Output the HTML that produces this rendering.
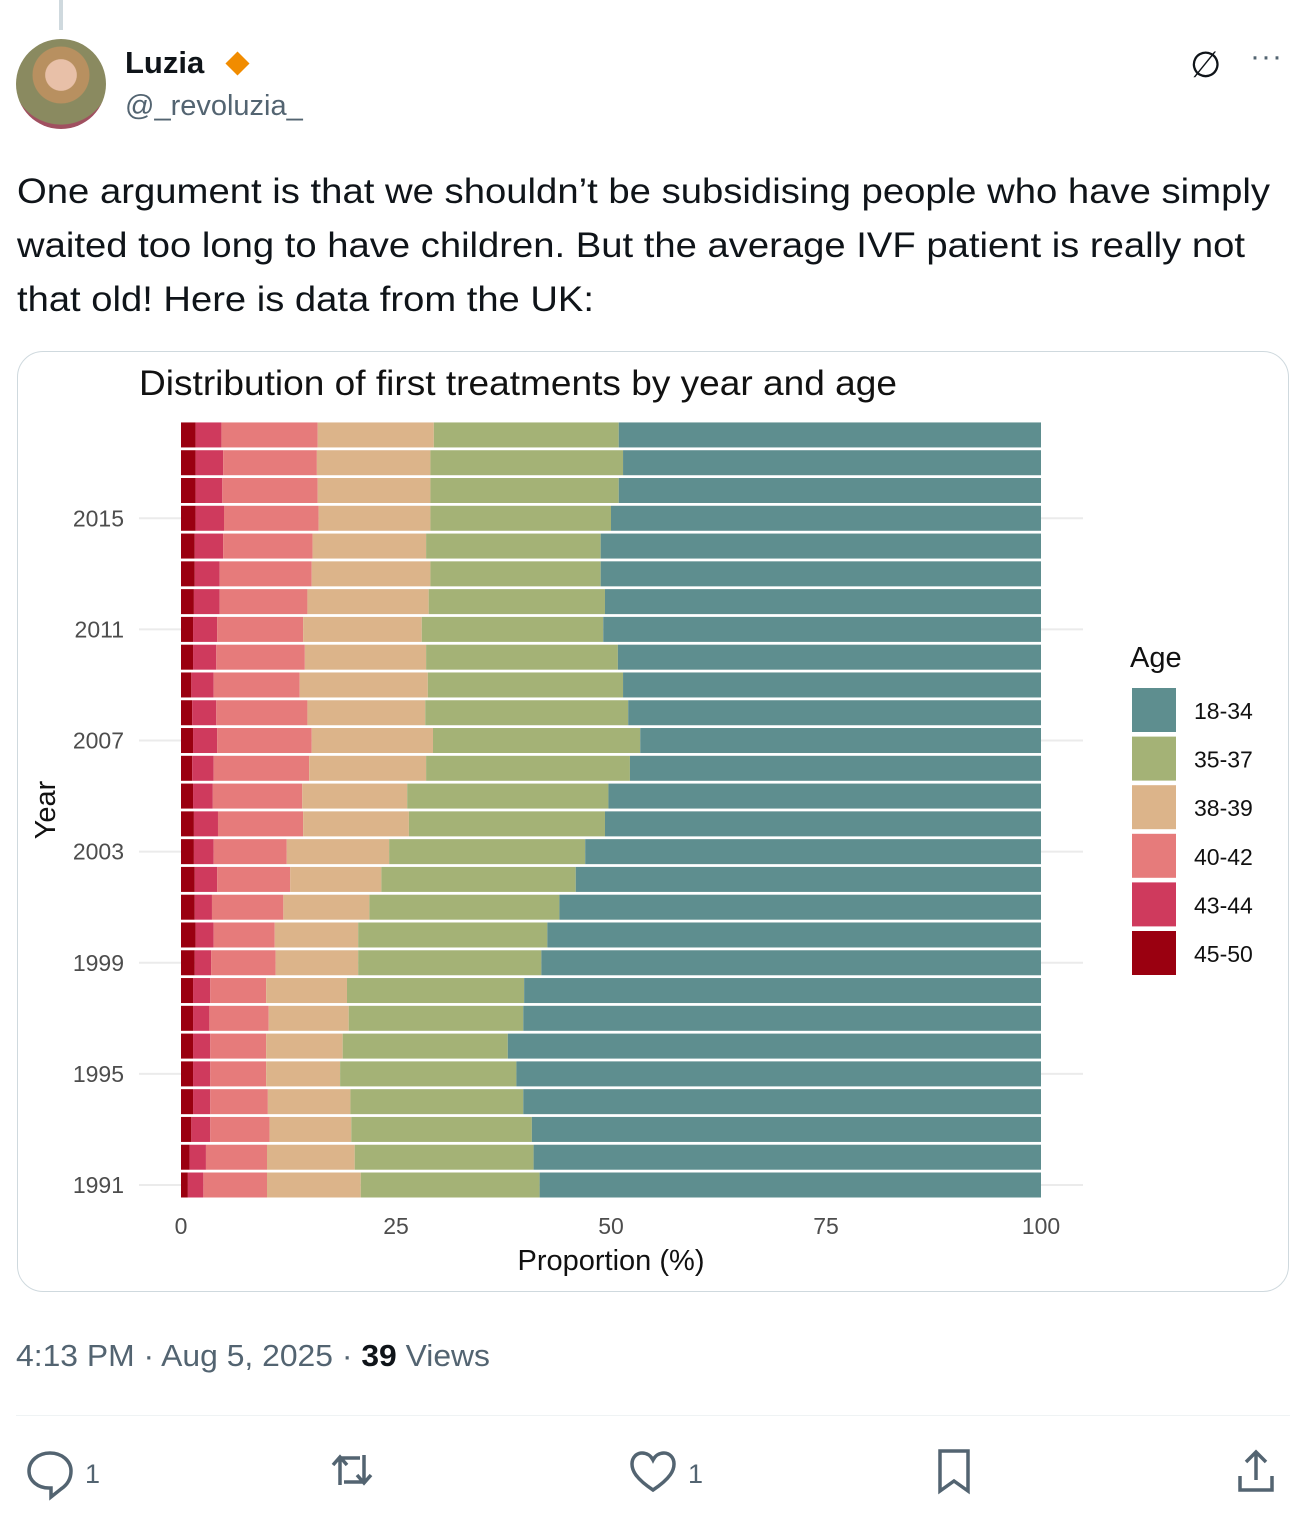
<!DOCTYPE html>
<html><head><meta charset="utf-8">
<style>
body{margin:0;width:1313px;height:1524px;background:#fff;font-family:"Liberation Sans",sans-serif;position:relative;overflow:hidden}
.abs{position:absolute}
</style></head><body>
<div class="abs" style="left:59px;top:0;width:4px;height:30px;background:#cfd9de"></div>
<div class="abs" style="left:16px;top:39px;width:90px;height:90px;border-radius:50%;background:radial-gradient(circle at 50% 40%,#e8c0a8 0 22%,#b89060 23% 40%,#8a8a60 41% 70%,#a05060 71%)"></div>
<div class="abs" style="left:125px;top:45px;font-size:31px;font-weight:bold;color:#0f1419">Luzia</div>
<div class="abs" style="left:229px;top:55px;width:17px;height:17px;background:#f18c00;transform:rotate(45deg)"></div>
<div class="abs" style="left:125px;top:90px;font-size:29px;color:#536471">@_revoluzia_</div>
<div class="abs" style="left:1190px;top:44px;font-size:36px;color:#0f1419">∅</div>
<div class="abs" style="left:1250px;top:40px;font-size:30px;color:#536471;letter-spacing:1px">···</div>
<svg class="abs" style="left:0;top:160px" width="1313" height="170">
<text x="17" y="43" font-size="35" fill="#0f1419" textLength="1253" lengthAdjust="spacingAndGlyphs">One argument is that we shouldn’t be subsidising people who have simply</text>
<text x="17" y="97" font-size="35" fill="#0f1419" textLength="1228" lengthAdjust="spacingAndGlyphs">waited too long to have children. But the average IVF patient is really not</text>
<text x="17" y="151" font-size="35" fill="#0f1419" textLength="577" lengthAdjust="spacingAndGlyphs">that old! Here is data from the UK:</text>
</svg>
<div class="abs" style="left:17px;top:351px;width:1270px;height:939px;border:1px solid #cfd9de;border-radius:26px"></div>
<svg class="abs" style="left:0;top:0" width="1313" height="1524" id="chart">
<text x="139" y="395" font-size="35" fill="#111" textLength="758" lengthAdjust="spacingAndGlyphs">Distribution of first treatments by year and age</text>
<g id="grid"></g><g id="bars"></g><g id="axes"></g><g id="legend"></g>
<text x="611" y="1270" font-size="29" fill="#111" text-anchor="middle">Proportion (%)</text>
<text transform="translate(55,810) rotate(-90)" font-size="29" fill="#111" text-anchor="middle">Year</text>
<text x="16" y="1366" font-size="31" fill="#536471" textLength="474" lengthAdjust="spacingAndGlyphs">4:13 PM · Aug 5, 2025 · <tspan font-weight="bold" fill="#0f1419">39</tspan> Views</text>
</svg>
<div class="abs" style="left:16px;top:1415px;width:1274px;height:1px;background:#eff3f4"></div>
<svg class="abs" style="left:0;top:1440px" width="1313" height="70">
<g fill="none" stroke="#536471" stroke-width="3.5"><path d="M50 13c-12 0-21 8-21 18 0 10 9 17 20 17h2v9l10-8c6-4 10-10 10-18 0-10-9-18-21-18z"/></g>
<text x="85" y="43" font-size="27" fill="#536471">1</text>
<g fill="none" stroke="#536471" stroke-width="3.5"><path d="M340 45V18h20M333 25l7-8 7 8M364 15v27h-20M371 35l-7 8-7-8"/></g>
<g fill="none" stroke="#536471" stroke-width="3.5"><path d="M653 50c-18-12-21-20-21-26 0-7 5-11 10-11 5 0 9 3 11 7 2-4 6-7 11-7 5 0 10 4 10 11 0 6-3 14-21 26z"/></g>
<text x="688" y="43" font-size="27" fill="#536471">1</text>
<g fill="none" stroke="#536471" stroke-width="3.5"><path d="M940 11h28v40l-14-10-14 10z"/></g>
<g fill="none" stroke="#536471" stroke-width="3.5"><path d="M1256 40V12M1246 22l10-10 10 10M1240 36v14h32V36"/></g>
</svg>
<script>
const years=[1991,1992,1993,1994,1995,1996,1997,1998,1999,2000,2001,2002,2003,2004,2005,2006,2007,2008,2009,2010,2011,2012,2013,2014,2015,2016,2017,2018];
// cumulative percentages at upper edge of each age group (oldest first), 1991..2018
const cum4550=[0.8,1.0,1.2,1.4,1.4,1.4,1.4,1.4,1.6,1.7,1.6,1.6,1.5,1.5,1.4,1.3,1.4,1.3,1.2,1.4,1.4,1.5,1.6,1.6,1.7,1.7,1.7,1.7];
const cum4344=[2.6,2.9,3.4,3.4,3.4,3.4,3.3,3.4,3.5,3.8,3.6,4.2,3.8,4.3,3.7,3.8,4.2,4.1,3.8,4.1,4.2,4.5,4.5,4.9,5.0,4.8,4.9,4.7];
const cum4042=[10.0,10.0,10.3,10.1,9.9,9.9,10.2,9.9,11.0,10.9,11.9,12.7,12.3,14.2,14.1,14.9,15.2,14.7,13.8,14.4,14.2,14.7,15.2,15.3,16.0,15.9,15.8,15.9];
const cum3839=[20.9,20.2,19.8,19.7,18.5,18.8,19.5,19.3,20.6,20.6,21.9,23.3,24.2,26.5,26.3,28.5,29.3,28.4,28.7,28.5,28.0,28.8,29.0,28.5,29.0,29.0,29.0,29.4];
const cum3537=[41.7,41.0,40.8,39.8,39.0,38.0,39.8,39.9,41.9,42.6,44.0,45.9,47.0,49.3,49.7,52.2,53.4,52.0,51.4,50.8,49.1,49.3,48.8,48.8,50.0,50.9,51.4,50.9];
const yearTicks=[1991,1995,1999,2003,2007,2011,2015];
const xTicks=[0,25,50,75,100];
const groups=["18-34","35-37","38-39","40-42","43-44","45-50"];
const colors={"18-34":"#5e8e8f","35-37":"#a4b276","38-39":"#dcb48a","40-42":"#e67b7b","43-44":"#cf3a5d","45-50":"#9a0010"};
const NS="http://www.w3.org/2000/svg";
const X=v=>181+v*8.6;
const Y=yr=>1185-(yr-1991)*27.78;
function mk(t,a,p){const e=document.createElementNS(NS,t);for(const k in a)e.setAttribute(k,a[k]);p.appendChild(e);return e;}
const grid=document.getElementById('grid'),bars=document.getElementById('bars'),axes=document.getElementById('axes'),leg=document.getElementById('legend');
yearTicks.forEach(y=>{const l=mk('line',{x1:139,x2:1083,y1:Y(y),y2:Y(y),stroke:'#ebebeb','stroke-width':2},grid);


const t=mk('text',{x:124,y:Y(y)+8,'font-size':23,fill:'#4d4d4d','text-anchor':'end'},axes);t.textContent=y;

});
xTicks.forEach(v=>{const t=mk('text',{x:X(v),y:1234,'font-size':23,fill:'#4d4d4d','text-anchor':'middle'},axes);t.textContent=v;

});
years.forEach((yr,i)=>{
 const edges=[0,cum4550[i],cum4344[i],cum4042[i],cum3839[i],cum3537[i],100];
 const gs=["45-50","43-44","40-42","38-39","35-37","18-34"];
 for(let k=0;k<6;k++){const r=mk('rect',{x:X(edges[k]),y:Y(yr)-12.5,width:X(edges[k+1])-X(edges[k]),height:25,fill:colors[gs[k]]},bars);
 
 }
});
const lt=mk('text',{x:1130,y:667,'font-size':29,fill:'#111'},leg);lt.textContent='Age';


groups.forEach((g,i)=>{const y=688+i*48.6;
 const r=mk('rect',{x:1132,y:y,width:44,height:44,fill:colors[g]},leg);
 
 
 const t=mk('text',{x:1194,y:y+31,'font-size':23,fill:'#111'},leg);t.textContent=g;
 
 });
</script>
</body></html>
